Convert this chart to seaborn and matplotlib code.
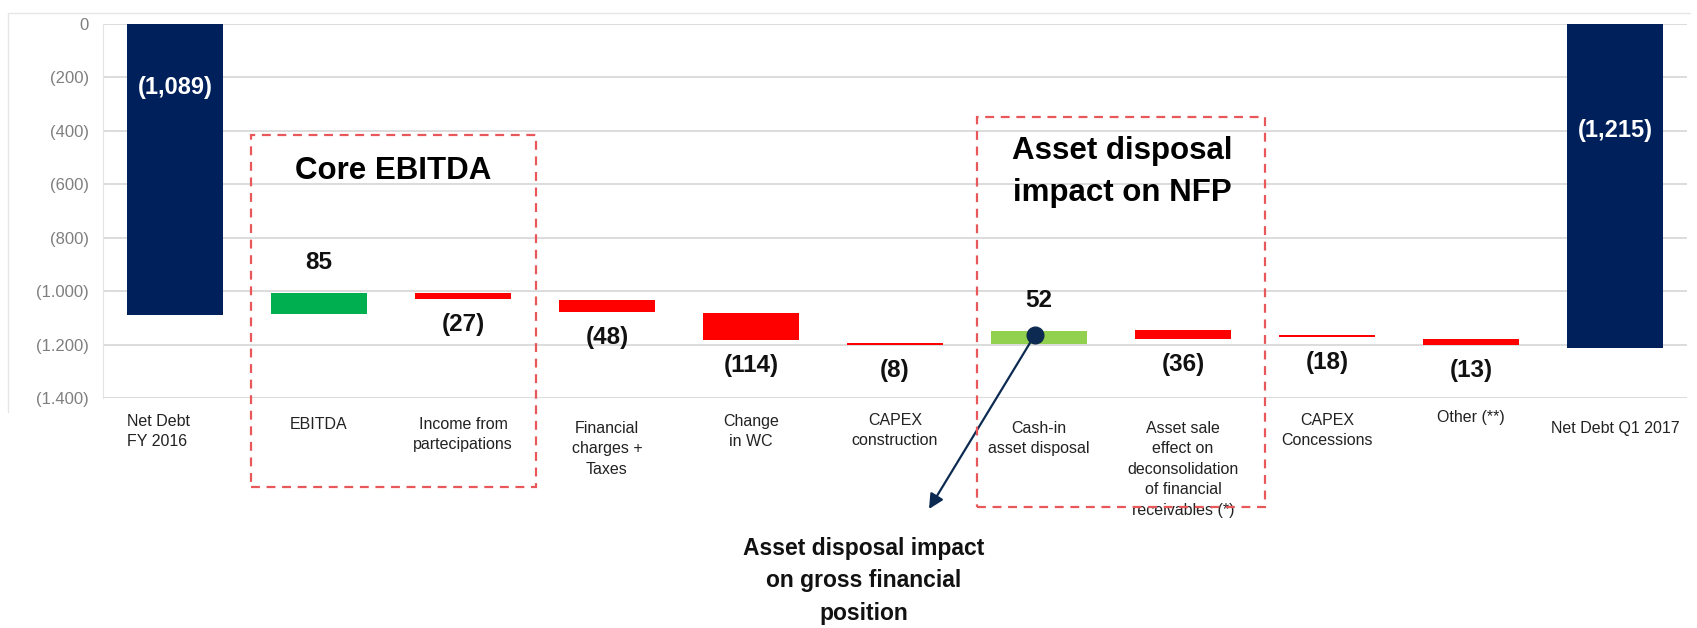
import matplotlib
matplotlib.use("Agg")
import matplotlib.pyplot as plt
from matplotlib.patches import Rectangle
from matplotlib.ticker import FuncFormatter
import pandas as pd
import seaborn as sns

# data (values in EUR m, debt shown negative)
categories = ["Net Debt\nFY 2016", "EBITDA", "Income from\npartecipations",
              "Financial\ncharges +\nTaxes", "Change\nin WC", "CAPEX\nconstruction",
              "Cash-in\nasset disposal",
              "Asset sale\neffect on\ndeconsolidation\nof financial\nreceivables (*)",
              "CAPEX\nConcessions", "Other (**)", "Net Debt Q1 2017"]
values = [-1089, 85, -27, -48, -114, -8, 52, -36, -18, -13, -1215]
value_labels = ["(1,089)", "85", "(27)", "(48)", "(114)", "(8)", "52", "(36)", "(18)", "(13)", "(1,215)"]
# bar extents as drawn in the picture
bar_top = [0, -1006, -1006, -1032, -1080, -1193, -1150, -1145, -1165, -1178, 0]
bar_bottom = [-1089, -1085, -1028, -1077, -1182, -1201, -1197, -1178, -1173, -1201, -1214]

NAVY = "#00205B"
colors = [NAVY, "#00B050", "#FF0000", "#FF0000", "#FF0000", "#FF0000",
          "#92D050", "#FF0000", "#FF0000", "#FF0000", NAVY]

df = pd.DataFrame({"cat": categories,
                   "height": [t - b for t, b in zip(bar_top, bar_bottom)],
                   "bottom": bar_bottom})

sns.set_style("white")
plt.rcParams["font.family"] = ["Liberation Sans", "DejaVu Sans"]

W, H = 1697, 628
fig = plt.figure(figsize=(W / 100, H / 100), dpi=100)
ax = fig.add_axes([103 / W, 1 - 398 / H, (1687 - 103) / W, (398 - 24) / H])

def fx(px):
    return px / W

def fy(py):
    return 1 - py / H

sns.barplot(data=df, x="cat", y="height", order=categories, errorbar=None,
            color="gray", width=0.66, bottom=df["bottom"].values,
            linewidth=0, ax=ax, zorder=3)
for patch, c in zip(ax.patches, colors):
    patch.set_facecolor(c)
    patch.set_edgecolor(c)

ax.set_xlim(-0.5, 10.5)
ax.set_ylim(-1400, 0)
ax.set_yticks(range(-1400, 1, 200))
ax.yaxis.set_major_formatter(FuncFormatter(
    lambda v, p: "0" if v == 0 else "({:,.0f})".format(abs(v)).replace(",", ".")))
ax.tick_params(axis="y", labelsize=12, labelcolor="#7f7f7f", length=0, pad=10)
ax.set_xticks([])
ax.set_xlabel("")
ax.set_ylabel("")
ax.grid(axis="y", color="#d9d9d9", linewidth=1.3, zorder=0)
for s in ["top", "right", "bottom"]:
    ax.spines[s].set_visible(False)
ax.spines["left"].set_color("#e3e3e3")

# value labels
for i, (v, lab) in enumerate(zip(values, value_labels)):
    if i in (0, len(values) - 1):
        continue
    if v > 0:
        ax.text(i, bar_top[i] + 115, lab, ha="center", va="center",
                fontsize=17.5, fontweight="bold", color="#111111")
    else:
        ax.text(i, bar_bottom[i] - 95, lab, ha="center", va="center",
                fontsize=17.5, fontweight="bold", color="#111111")
ax.text(0, -238, value_labels[0], ha="center", va="center", fontsize=17,
        fontweight="bold", color="white", zorder=4)
ax.text(10, -400, value_labels[-1], ha="center", va="center", fontsize=17,
        fontweight="bold", color="white", zorder=4)

# category labels under the axis
label_top = [414, 417, 417, 421, 414, 413, 421, 421, 413, 410, 421]
trans = ax.get_xaxis_transform()
for i, (cat, ty) in enumerate(zip(categories, label_top)):
    yy = (398 - ty) / (398 - 24)
    if i == 0:
        ax.text(i - 0.33, yy, cat, ha="left", va="top", fontsize=11.5,
                color="#222222", transform=trans, linespacing=1.45)
    else:
        ax.text(i, yy, cat, ha="center", va="top", fontsize=11.5,
                color="#222222", transform=trans, linespacing=1.45,
                multialignment="center")

# dashed group boxes
box_color = "#E8575A"
for x0, y0, x1, y1 in [(251, 135, 536, 487), (977, 117, 1265, 507)]:
    fig.patches.append(Rectangle((fx(x0), fy(y1)), fx(x1) - fx(x0), fy(y0) - fy(y1),
                                 transform=fig.transFigure, fill=False,
                                 edgecolor=box_color, linewidth=1.6,
                                 linestyle=(0, (4, 3)), zorder=5))

fig.text(fx(393), fy(171), "Core EBITDA", ha="center", va="center",
         fontsize=22.5, fontweight="bold", color="black")
fig.text(fx(1122), fy(172), "Asset disposal\nimpact on NFP", ha="center",
         va="center", fontsize=22.5, fontweight="bold", color="black", linespacing=1.5)

# annotation for gross financial position
ax.plot([5.97], [-1165], marker="o", markersize=12, color="#0D2B52", zorder=6)
ax.annotate("", xy=(fx(929), fy(509)), xycoords="figure fraction",
            xytext=(5.97, -1165), textcoords="data",
            arrowprops=dict(arrowstyle="-|>", color="#0D2B52", lw=1.6,
                            mutation_scale=22, shrinkA=0, shrinkB=0),
            annotation_clip=False, zorder=6)
fig.text(fx(864), fy(581), "Asset disposal impact\non gross financial\nposition",
         ha="center", va="center", fontsize=16.5, fontweight="bold",
         color="#111111", linespacing=1.55)

# faint frame around the chart area
fig.add_artist(plt.Line2D([fx(8), fx(1690)], [fy(13), fy(13)], color="#e6e6e6", lw=1))
fig.add_artist(plt.Line2D([fx(8), fx(8)], [fy(13), fy(412)], color="#e6e6e6", lw=1))

fig.savefig("out.png", dpi=100)
